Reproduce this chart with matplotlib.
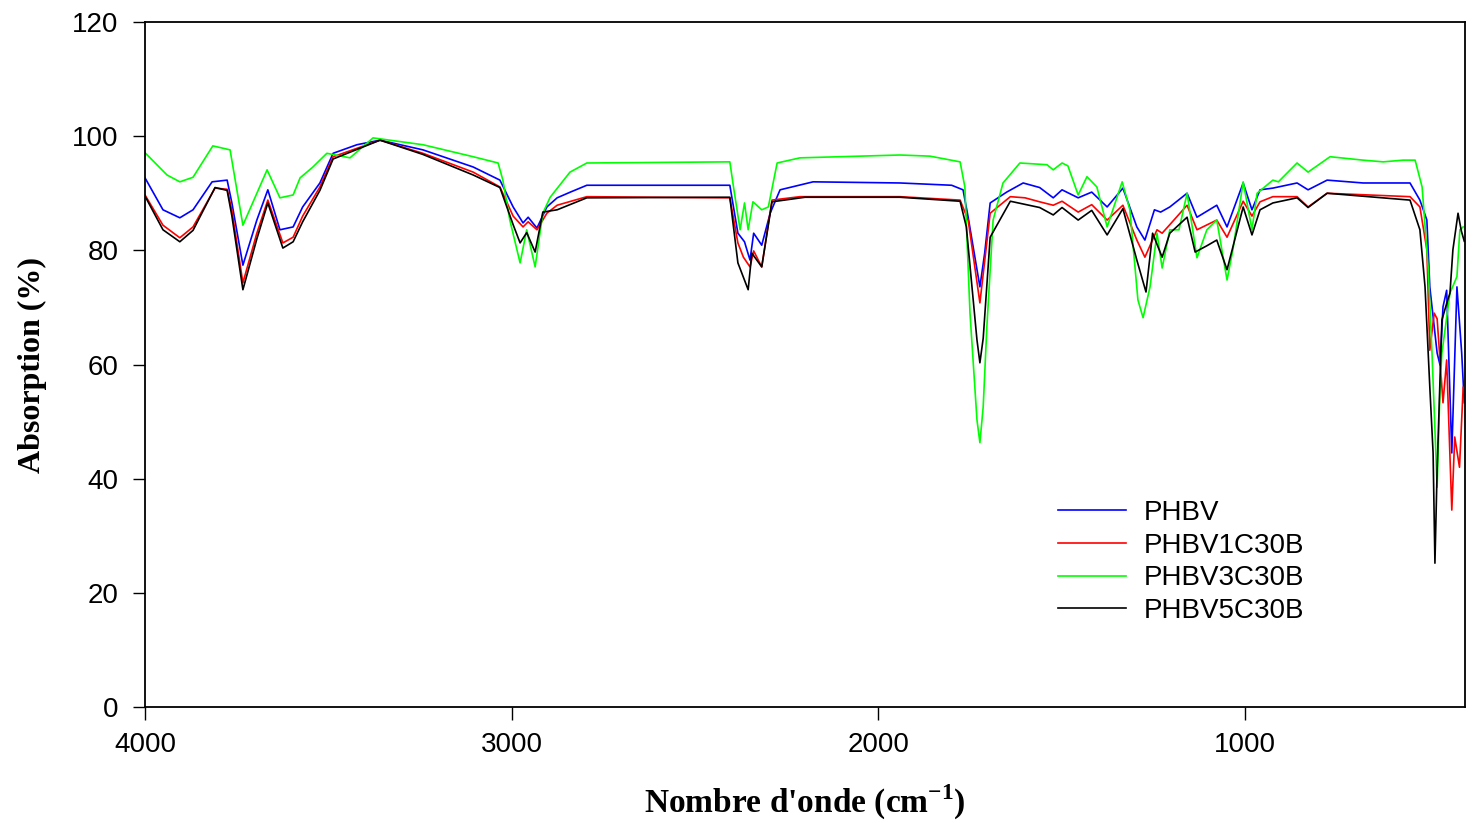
import matplotlib
matplotlib.use("Agg")
import matplotlib.pyplot as plt

# ---- data ----
wn_phbv = [4000, 3951, 3905, 3869, 3817, 3776, 3763, 3733, 3695, 3665, 3632, 3596, 3570, 3523,
           3487, 3422, 3359, 3242, 3105, 3032, 2996, 2969, 2955, 2931, 2904, 2876, 2840, 2795,
           2405, 2383, 2365, 2350, 2340, 2318, 2295, 2268, 2178, 1941, 1800, 1769, 1755, 1723,
           1710, 1695, 1650, 1605, 1560, 1523, 1499, 1455, 1418, 1376, 1333, 1295, 1273, 1247,
           1230, 1205, 1158, 1131, 1077, 1049, 1005, 981, 959, 924, 858, 828, 776, 678, 550,
           523, 504, 496, 476, 468, 460, 450, 436, 422, 409, 402]
phbv = [92.7, 87.1, 85.7, 87.1, 92.0, 92.3, 88.3, 77.4, 85.3, 90.6, 83.6, 84.1, 87.6, 91.8,
        97.0, 98.5, 99.3, 97.6, 94.6, 92.3, 87.6, 84.8, 85.8, 83.9, 87.6, 89.2, 90.2, 91.4,
        91.4, 83.0, 81.5, 78.3, 83.0, 80.9, 86.5, 90.6, 92.0, 91.8, 91.4, 90.6, 85.8, 73.6,
        79.5, 88.3, 90.2, 91.8, 91.0, 89.2, 90.6, 89.2, 90.2, 87.6, 90.9, 84.1, 81.8, 87.1,
        86.7, 87.6, 90.0, 85.8, 87.9, 84.1, 91.8, 87.1, 90.6, 90.9, 91.8, 90.6, 92.3, 91.8, 91.8,
        88.8, 85.3, 73.6, 62.0, 59.9, 70.1, 73.0, 44.5, 73.6, 62.0, 53.3]

wn_1c30b = [4000, 3951, 3905, 3869, 3809, 3776, 3763, 3733, 3695, 3665, 3624, 3596, 3570, 3523,
            3487, 3359, 3242, 3105, 3032, 2996, 2969, 2955, 2931, 2904, 2876, 2795, 2405, 2383,
            2368, 2350, 2340, 2318, 2290, 2214, 1941, 1777, 1755, 1723, 1695, 1640, 1600, 1560,
            1523, 1499, 1455, 1418, 1376, 1333, 1295, 1273, 1240, 1226, 1205, 1158, 1131, 1077,
            1049, 1005, 981, 959, 924, 858, 828, 776, 550, 523, 504, 496, 484, 476, 460, 450,
            436, 428, 415, 405]
phbv_1c30b = [89.7, 84.4, 82.2, 84.1, 90.9, 90.7, 87.0, 74.3, 83.0, 88.8, 81.3, 82.3, 86.0, 91.1,
              96.4, 99.3, 97.0, 93.7, 91.1, 86.0, 84.1, 85.0, 83.6, 86.5, 87.9, 89.4, 89.2, 81.3,
              78.8, 77.1, 79.9, 77.1, 88.8, 89.4, 89.4, 88.8, 85.3, 70.8, 86.5, 89.4, 89.2, 88.5,
              87.9, 88.6, 86.7, 88.0, 85.3, 87.9, 81.8, 78.8, 83.6, 83.0, 84.5, 87.9, 83.6, 85.3,
              82.3, 88.6, 86.0, 88.5, 89.4, 89.4, 87.6, 90.0, 89.4, 87.6, 80.1, 62.5, 69.0, 68.0,
              53.3, 60.8, 34.5, 47.3, 42.0, 56.0]

wn_3c30b = [4000, 3940, 3905, 3869, 3815, 3768, 3733, 3667, 3632, 3596, 3577, 3542, 3504, 3441,
            3378, 3242, 3105, 3037, 3024, 3005, 2977, 2959, 2936, 2915, 2895, 2841, 2795, 2405,
            2395, 2377, 2365, 2355, 2342, 2318, 2300, 2276, 2214, 1941, 1859, 1777, 1764, 1750,
            1731, 1723, 1714, 1704, 1687, 1660, 1614, 1540, 1523, 1499, 1483, 1455, 1431, 1404,
            1376, 1335, 1314, 1292, 1278, 1259, 1240, 1226, 1205, 1180, 1158, 1131, 1104, 1077,
            1049, 1033, 1005, 981, 967, 924, 909, 858, 828, 768, 678, 623, 569, 536, 517, 500,
            490, 476, 468, 463, 441, 422, 414, 405]
phbv_3c30b = [97.1, 93.2, 92.0, 92.8, 98.3, 97.6, 84.4, 94.1, 89.2, 89.7, 92.7, 94.6, 97.0, 96.2,
              99.7, 98.5, 96.4, 95.3, 92.3, 85.3, 77.8, 83.6, 77.1, 86.5, 89.3, 93.7, 95.3, 95.5,
              91.1, 83.6, 88.3, 83.6, 88.5, 87.1, 87.6, 95.3, 96.2, 96.7, 96.5, 95.5, 91.1, 69.0,
              50.3, 46.3, 52.6, 66.6, 85.3, 91.8, 95.3, 95.0, 94.1, 95.3, 94.8, 89.7, 92.9, 91.1,
              84.1, 92.0, 87.1, 71.3, 68.2, 73.6, 83.0, 76.9, 83.6, 83.6, 90.0, 78.7, 83.6, 85.3,
              74.8, 80.1, 92.0, 83.6, 90.0, 92.3, 92.0, 95.3, 93.7, 96.4, 95.8, 95.5, 95.8, 95.8,
              91.1, 76.6, 62.0, 38.5, 56.1, 62.0, 72.5, 75.4, 83.6, 84.1]

wn_5c30b = [4000, 3951, 3905, 3869, 3809, 3776, 3763, 3733, 3695, 3665, 3624, 3596, 3570, 3523,
            3487, 3359, 3242, 3105, 3032, 2996, 2977, 2959, 2936, 2915, 2876, 2795, 2405, 2383,
            2355, 2345, 2318, 2290, 2200, 1941, 1777, 1760, 1731, 1723, 1714, 1695, 1640, 1560,
            1523, 1499, 1455, 1418, 1376, 1333, 1295, 1270, 1252, 1226, 1205, 1158, 1136, 1104,
            1077, 1049, 1005, 981, 959, 924, 858, 828, 776, 550, 523, 509, 496, 487, 482, 476,
            463, 450, 441, 433, 419, 410, 402]
phbv_5c30b = [89.5, 83.6, 81.5, 83.5, 91.0, 90.5, 86.0, 73.1, 82.0, 88.3, 80.4, 81.5, 85.0, 90.5,
              96.0, 99.3, 96.8, 93.2, 91.0, 84.5, 81.3, 83.1, 79.7, 86.7, 87.1, 89.2, 89.3, 77.8,
              73.1, 79.5, 77.1, 88.5, 89.3, 89.3, 88.6, 84.1, 64.3, 60.3, 64.6, 82.3, 88.6, 87.5,
              86.2, 87.5, 85.3, 87.0, 82.7, 87.3, 78.3, 72.7, 83.0, 78.8, 83.0, 85.8, 79.7, 80.8,
              81.8, 76.6, 87.6, 82.7, 87.1, 88.3, 89.2, 87.5, 90.0, 88.8, 83.6, 73.6, 56.1, 44.5,
              25.2, 41.6, 67.8, 70.7, 72.5, 80.1, 86.5, 83.4, 81.6]

series_labels = ["PHBV", "PHBV1C30B", "PHBV3C30B", "PHBV5C30B"]
series_colors = ["#0000ff", "#ff0000", "#00ff00", "#000000"]
x_ticks = [4000, 3000, 2000, 1000]
y_ticks = [0, 20, 40, 60, 80, 100, 120]

# ---- figure ----
plt.rcParams['mathtext.fontset'] = 'custom'
plt.rcParams['mathtext.rm'] = 'Liberation Serif:bold'
plt.rcParams['mathtext.bf'] = 'Liberation Serif:bold'

fig = plt.figure(figsize=(14.74, 8.23), dpi=100)
ax = fig.add_axes([145/1474, 1 - 707/823, (1465-145)/1474, (707-22)/823])

data = [(wn_phbv, phbv), (wn_1c30b, phbv_1c30b), (wn_3c30b, phbv_3c30b), (wn_5c30b, phbv_5c30b)]
for (x, y), lab, col in zip(data, series_labels, series_colors):
    ax.plot(x, y, color=col, lw=1.2, label=lab)

ax.set_xlim(4000, 400)
ax.set_ylim(0, 120)
ax.set_xticks(x_ticks)
ax.set_yticks(y_ticks)
ax.tick_params(axis='both', direction='out', length=9, width=1.0, labelsize=20,
               top=False, right=False)
ax.tick_params(axis='x', pad=9)
ax.tick_params(axis='y', pad=10)
for lab in ax.get_xticklabels() + ax.get_yticklabels():
    lab.set_family('Liberation Sans')
for sp in ax.spines.values():
    sp.set_linewidth(1.3)

ax.set_xlabel("Nombre d'onde (cm$^{\\mathbf{-1}}$)", family='Liberation Serif',
              fontweight='bold', fontsize=24, labelpad=18)
ax.set_ylabel("Absorption (%)", family='Liberation Serif', fontweight='bold',
              fontsize=23, labelpad=18)

leg = ax.legend(loc='upper left', bbox_to_anchor=(1058/1474, 1 - 500/823),
                bbox_transform=fig.transFigure, frameon=False, borderpad=0,
                borderaxespad=0, handlelength=2.45, handletextpad=0.65,
                labelspacing=0.24, prop={'family': 'Liberation Sans', 'size': 20})

fig.savefig("out.png", dpi=100)
